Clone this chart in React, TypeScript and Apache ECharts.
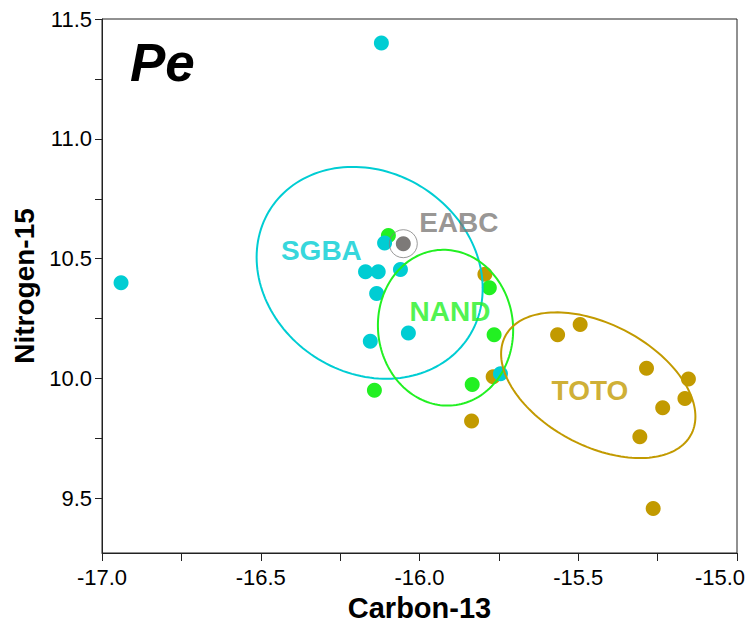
import { useEffect, useRef } from "react";
import * as echarts from "echarts";

// Carbon-13 (x), Nitrogen-15 (y) values per group
const sgbaPoints: [number, number][] = [
  [-16.12, 11.4],
  [-16.94, 10.4],
  [-16.11, 10.565],
  [-16.17, 10.445],
  [-16.13, 10.445],
  [-16.06, 10.455],
  [-16.135, 10.355],
  [-16.035, 10.19],
  [-16.155, 10.155],
  [-15.745, 10.02],
];
const nandPoints: [number, number][] = [
  [-16.098, 10.597],
  [-15.78, 10.379],
  [-15.765, 10.183],
  [-15.834, 9.975],
  [-16.142, 9.951],
];
const totoPoints: [number, number][] = [
  [-15.794, 10.435],
  [-15.768, 10.007],
  [-15.836, 9.823],
  [-15.565, 10.183],
  [-15.494, 10.225],
  [-15.285, 10.043],
  [-15.153, 9.998],
  [-15.164, 9.917],
  [-15.234, 9.878],
  [-15.306, 9.757],
  [-15.264, 9.458],
];
const eabcPoints: [number, number][] = [[-16.051, 10.5625]];

// Ellipses: centre, half-extent in x, half-extent in y, correlation
const ellipseGroups = ["SGBA", "NAND", "TOTO"];
const ellipseCenterX = [-16.157, -15.918, -15.437];
const ellipseCenterY = [10.441, 10.212, 9.972];
const ellipseHalfX = [0.356, 0.213, 0.306];
const ellipseHalfY = [0.442, 0.325, 0.304];
const ellipseCorr = [-0.147, -0.03, -0.43];

// Group label anchors (data units)
const labelNames = ["SGBA", "NAND", "TOTO", "EABC"];
const labelX = [-16.309, -15.904, -15.463, -15.876];
const labelY = [10.535, 10.28, 9.949, 10.651];

const xTickValues = [-17, -16.75, -16.5, -16.25, -16, -15.75, -15.5, -15.25, -15];
const xTickLabels = [-17, -16.5, -16, -15.5, -15];
const yTickValues = [9.5, 9.75, 10, 10.25, 10.5, 10.75, 11, 11.25, 11.5];
const yTickLabels = [9.5, 10, 10.5, 11, 11.5];

const COLORS: Record<string, string> = {
  SGBA: "#00CDD3",
  NAND: "#22F022",
  TOTO: "#C29A00",
  EABC: "#7D7A78",
};

const FONT = "'Liberation Sans', Arial, sans-serif";

export default function App() {
  const ref = useRef<HTMLDivElement>(null);

  useEffect(() => {
    if (!ref.current) return;
    const chart = echarts.init(ref.current, null, { renderer: "svg" });

    const ellipseData = ellipseGroups.map((g, i) => [
      ellipseCenterX[i],
      ellipseCenterY[i],
      ellipseHalfX[i],
      ellipseHalfY[i],
      ellipseCorr[i],
    ]);

    const scatter = (name: string, data: [number, number][], z: number) => ({
      type: "scatter",
      name,
      data,
      symbol: "circle",
      symbolSize: 15,
      z,
      itemStyle: { color: COLORS[name], opacity: 1 },
      emphasis: { disabled: true },
    });

    const xMax = xTickLabels[xTickLabels.length - 1];

    chart.setOption({
      animation: false,
      backgroundColor: "#fff",
      grid: {
        left: 102,
        right: 10,
        top: 19,
        bottom: 70,
        containLabel: false,
        outerBoundsMode: "none",
        show: true,
        borderColor: "#222",
        borderWidth: 1,
        backgroundColor: "transparent",
      },
      xAxis: {
        type: "value",
        min: -17,
        max: -15,
        interval: 0.25,
        name: "Carbon-13",
        nameLocation: "middle",
        nameGap: 40,
        nameTextStyle: { fontFamily: FONT, fontWeight: "bold", fontSize: 29, color: "#000" },
        axisLine: { show: true, onZero: false, lineStyle: { color: "#222", width: 1 } },
        axisTick: { show: true, length: 8, customValues: xTickValues, lineStyle: { color: "#222" } },
        axisLabel: {
          customValues: xTickLabels,
          formatter: (v: number) =>
            v === xMax ? `{last|${v.toFixed(1)}}` : v.toFixed(1),
          fontFamily: FONT,
          fontSize: 22,
          color: "#000",
          margin: 13,
          showMinLabel: true,
          showMaxLabel: true,
          rich: {
            last: {
              fontFamily: FONT,
              fontSize: 22,
              color: "#000",
              padding: [0, 34, 0, 0],
            },
          },
        },
        splitLine: { show: false },
      },
      yAxis: {
        type: "value",
        min: 9.272,
        max: 11.5,
        name: "Nitrogen-15",
        nameLocation: "middle",
        nameGap: 62,
        nameTextStyle: { fontFamily: FONT, fontWeight: "bold", fontSize: 28, color: "#000" },
        axisLine: { show: true, onZero: false, lineStyle: { color: "#222", width: 1 } },
        axisTick: { show: true, length: 7, customValues: yTickValues, lineStyle: { color: "#222" } },
        axisLabel: {
          customValues: yTickLabels,
          formatter: (v: number) => v.toFixed(1),
          fontFamily: FONT,
          fontSize: 22,
          color: "#000",
          margin: 10,
        },
        splitLine: { show: false },
      },
      graphic: [
        {
          type: "text",
          left: 130,
          top: 36,
          style: {
            text: "Pe",
            font: `italic bold 53px ${FONT}`,
            fill: "#000",
          },
        },
      ],
      series: [
        scatter("TOTO", totoPoints, 2),
        scatter("NAND", nandPoints, 3),
        scatter("SGBA", sgbaPoints, 4),
        scatter("EABC", eabcPoints, 5),
        {
          type: "scatter",
          name: "EABC ring",
          data: eabcPoints,
          symbol: "circle",
          symbolSize: 28,
          z: 6,
          itemStyle: { color: "transparent", borderColor: "#808080", borderWidth: 1 },
          emphasis: { disabled: true },
        },
        {
          type: "custom",
          name: "ellipses",
          z: 7,
          data: ellipseData,
          encode: { x: 0, y: 1 },
          silent: true,
          renderItem: (params: any, api: any) => {
            const cx = api.value(0);
            const cy = api.value(1);
            const sx = api.value(2);
            const sy = api.value(3);
            const r = api.value(4);
            const k = Math.sqrt(1 - r * r);
            const pts: number[][] = [];
            const n = 160;
            for (let i = 0; i < n; i++) {
              const t = (i / n) * Math.PI * 2;
              const c = Math.cos(t);
              const s = Math.sin(t);
              pts.push(api.coord([cx + sx * c, cy + sy * (r * c + k * s)]));
            }
            return {
              type: "polygon",
              shape: { points: pts },
              style: {
                fill: "none",
                stroke: COLORS[ellipseGroups[params.dataIndex]],
                lineWidth: 2,
              },
            };
          },
        },
        {
          type: "scatter",
          name: "labels",
          z: 8,
          symbolSize: 1,
          itemStyle: { color: "transparent" },
          silent: true,
          data: labelNames.map((n, i) => ({
            value: [labelX[i], labelY[i]],
            name: n,
            label: {
              show: true,
              position: "inside",
              formatter: n,
              color: COLORS[n],
              fontFamily: FONT,
              fontWeight: "bold",
              fontSize: 28,
            },
          })),
        },
      ],
    });

    return () => chart.dispose();
  }, []);

  return (
    <div
      ref={ref}
      style={{ position: "fixed", left: 0, top: 0, width: 747, height: 623, background: "#fff" }}
    />
  );
}
